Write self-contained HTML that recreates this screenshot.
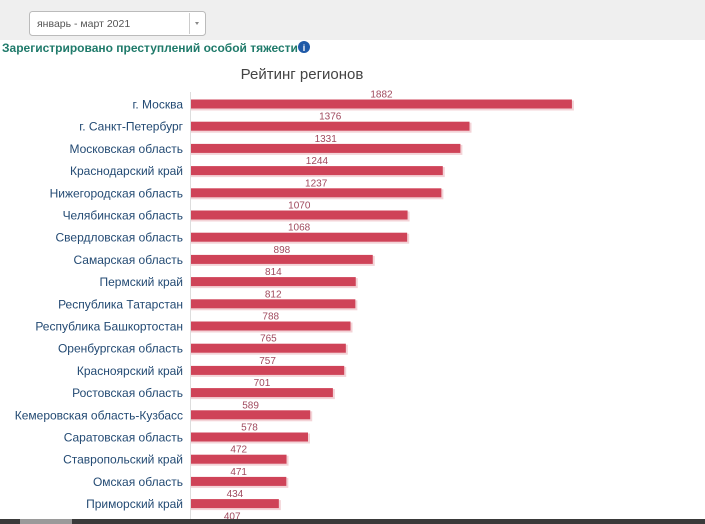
<!DOCTYPE html>
<html><head><meta charset="utf-8"><style>
html,body{margin:0;padding:0;width:705px;height:524px;overflow:hidden;background:#fff;font-family:"Liberation Sans","DejaVu Sans",sans-serif;}
</style></head><body>
<svg width="705" height="524" xmlns="http://www.w3.org/2000/svg" font-family="Liberation Sans, DejaVu Sans, sans-serif">
<rect x="0" y="0" width="705" height="40" fill="#efefef"/>
<rect x="29.5" y="11.5" width="176" height="24" rx="3" fill="#fff" stroke="#bbb"/>
<line x1="189.5" y1="13" x2="189.5" y2="34" stroke="#ccc"/>
<path d="M195 22 l4 0 l-2 3 z" fill="#888"/>
<text x="37" y="27" font-size="10.5" fill="#555">январь - март 2021</text>
<text x="2" y="52" font-size="12" font-weight="bold" fill="#1f7a6a">Зарегистрировано преступлений особой тяжести</text>
<circle cx="304" cy="47" r="6" fill="#1f5aa8"/>
<text x="304" y="51" font-size="9" font-weight="bold" fill="#fff" text-anchor="middle">i</text>
<text x="302" y="79" font-size="15" fill="#444" text-anchor="middle">Рейтинг регионов</text>
<line x1="190.5" y1="92" x2="190.5" y2="524" stroke="#ddd"/>
<g id="bars" font-size="12" fill="#234a73"></g>
<rect x="0" y="519" width="705" height="5" fill="#3a3a3a"/>
<rect x="20" y="519" width="52" height="5" fill="#9a9a9a"/>
</svg>
<script>
var d=[["г. Москва",1882],["г. Санкт-Петербург",1376],["Московская область",1331],["Краснодарский край",1244],["Нижегородская область",1237],["Челябинская область",1070],["Свердловская область",1068],["Самарская область",898],["Пермский край",814],["Республика Татарстан",812],["Республика Башкортостан",788],["Оренбургская область",765],["Красноярский край",757],["Ростовская область",701],["Кемеровская область-Кузбасс",589],["Саратовская область",578],["Ставропольский край",472],["Омская область",471],["Приморский край",434],["",407]];
var g=document.getElementById('bars'),s='';
d.forEach(function(r,i){var c=104.5+22.2*i,w=r[1]*0.2024;
if(r[0])s+='<text x="183" y="'+(c+4)+'" text-anchor="end">'+r[0]+'</text>';
s+='<rect x="191" y="'+(c-4)+'" width="'+(w+2)+'" height="10" fill="#f3d3d7"/>';
s+='<rect x="191" y="'+(c-5)+'" width="'+w+'" height="9" fill="#cf4358"/>';
s+='<text x="'+(191+w/2)+'" y="'+(c-7)+'" text-anchor="middle" font-size="10" fill="#a04a5e">'+r[1]+'</text>';});
g.innerHTML=s;
</script>
</body></html>
